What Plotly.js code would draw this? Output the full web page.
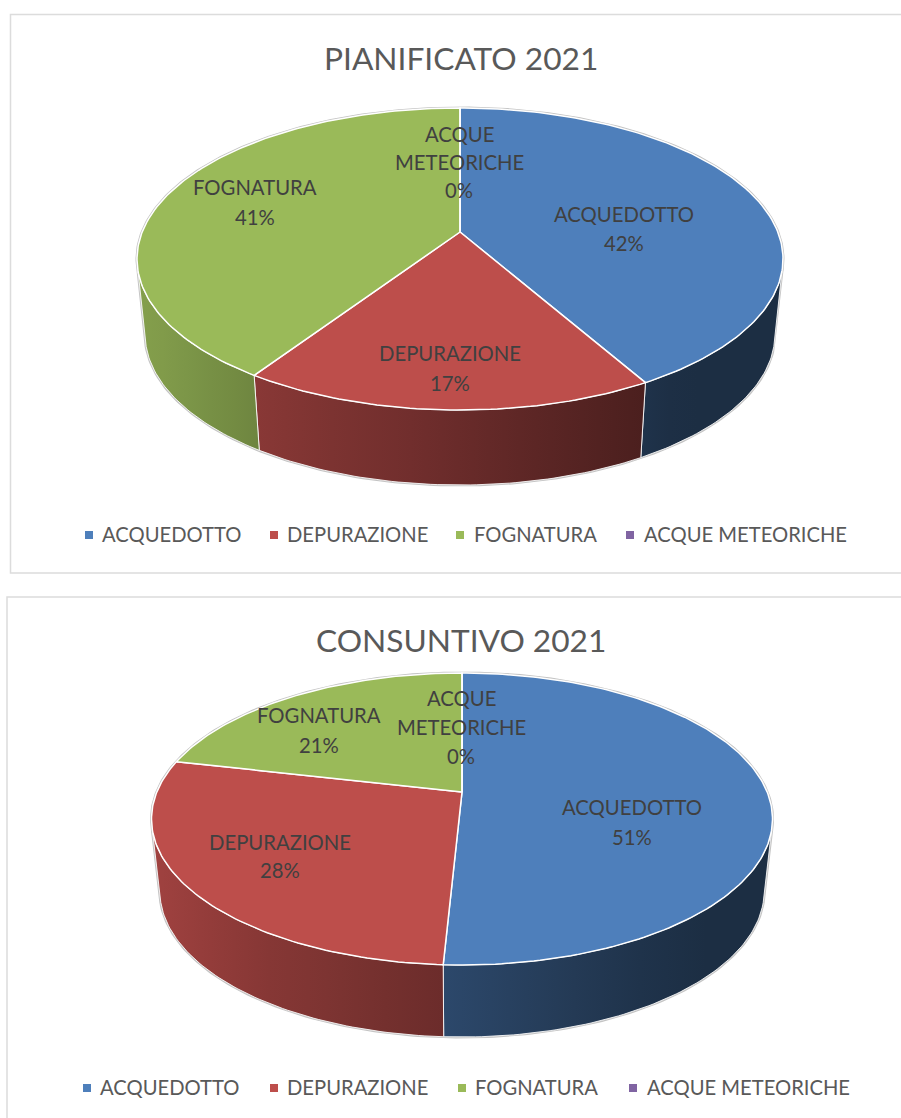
<!DOCTYPE html>
<html>
<head>
<meta charset="utf-8">
<script src="https://cdn.plot.ly/plotly-3.0.1.min.js"></script>
<style>html,body{margin:0;padding:0;background:#fff}#chart{width:901px;height:1118px}</style>
</head>
<body>
<div id="chart"></div>
<script>
// ---- data ----
const categories = ["ACQUEDOTTO", "DEPURAZIONE", "FOGNATURA", "ACQUE METEORICHE"];
const pianificato2021 = [41.8, 17.49, 40.71, 0];
const consuntivo2021 = [50.8, 27.8, 21.4, 0];
const chartTitles = ["PIANIFICATO 2021", "CONSUNTIVO 2021"];
const sliceColors = ["#4e7fbb", "#bd4e4b", "#9aba59", "#8064a2"];

// ---- layout of the two perspective pies (in axis units) ----
const pies = [
  {values: pianificato2021, title: chartTitles[0], titleY: 58, hubX: 460, hubY: 232, up: 124, down: 178, halfW: 323, depth: 75, rimScale: .975,
   labels: [[624, [214, 243]], [450, [353, 383]], [255, [187, 217]], [459, [134, 162, 190]]],
   legendY: 534, keyX: [89, 274, 460, 630], textX: [102, 287, 474, 644]},
  {values: consuntivo2021, title: chartTitles[1], titleY: 640, hubX: 462, hubY: 792, up: 119, down: 173, halfW: 310.5, depth: 72, rimScale: .973,
   labels: [[632, [807, 837]], [280, [842, 870]], [319, [715, 745]], [461, [698, 727, 756]]],
   legendY: 1087, keyX: [87, 274, 462, 633], textX: [100, 287, 475, 647]}
];
const VISIBLE_FROM = 105, VISIBLE_TO = 255;
const LABEL_FONT = "Lato, 'Open Sans', sans-serif";

function projector(p) {
  const ry = 2 / (1 / p.up + 1 / p.down), k = ry / p.up - 1;
  const rx = p.halfW * Math.sqrt(1 - k * k);
  return function (deg, lower) {
    const t = deg * Math.PI / 180, u = Math.sin(t), v = Math.cos(t), d = 1 + k * v;
    const s = lower ? p.rimScale : 1;
    return [p.hubX + s * rx * u / d, p.hubY + (lower ? p.depth : 0) - ry * v / d];
  };
}
function sweep(a, b) {
  const out = [], n = Math.max(1, Math.ceil(Math.abs(b - a)));
  for (let i = 0; i <= n; i++) out.push(a + (b - a) * i / n);
  return out;
}
const shadeStops = [[0, .9], [150, .85], [256, .72], [443, .57], [640, .4], [680, .36], [901, .36]];
function shadeAt(x) {
  for (let i = 1; i < shadeStops.length; i++) {
    if (x <= shadeStops[i][0]) {
      const a = shadeStops[i - 1], b = shadeStops[i];
      return a[1] + (b[1] - a[1]) * (x - a[0]) / (b[0] - a[0]);
    }
  }
  return .36;
}
function shaded(hex, f) {
  const n = parseInt(hex.slice(1), 16);
  return `rgb(${Math.round((n >> 16) * f)},${Math.round(((n >> 8) & 255) * f)},${Math.round((n & 255) * f)})`;
}

const traces = [], annotations = [];
pies.forEach((p) => {
  const at = projector(p);
  const total = p.values.reduce((a, b) => a + b, 0);
  // soft grey halo round the whole solid
  const haloTop = sweep(VISIBLE_TO, 360 + VISIBLE_FROM).map(d => at(d, false));
  const haloLow = sweep(VISIBLE_FROM, VISIBLE_TO).map(d => at(d, true));
  const halo = haloTop.concat(haloLow);
  halo.push(halo[0]);
  traces.push({type: "scatter", mode: "lines", x: halo.map(q => q[0]), y: halo.map(q => q[1]),
    line: {color: "#c4c4c4", width: 3}, showlegend: false, hoverinfo: "skip"});

  let cum = 0;
  const ranges = p.values.map(v => { const a = cum / total * 360; cum += v; return [a, cum / total * 360]; });
  // outer wall of each slice
  ranges.forEach((r, i) => {
    const a = Math.max(r[0], VISIBLE_FROM), b = Math.min(r[1], VISIBLE_TO);
    if (b <= a) return;
    const pts = sweep(a, b).map(d => at(d, false)).concat(sweep(b, a).map(d => at(d, true)));
    pts.push(pts[0]);
    const xs = pts.map(q => q[0]), x0 = Math.min(...xs), x1 = Math.max(...xs);
    const scale = [0, .2, .4, .6, .8, 1].map(f => [f, shaded(sliceColors[i], shadeAt(x0 + (x1 - x0) * f))]);
    traces.push({type: "scatter", mode: "lines", x: xs, y: pts.map(q => q[1]), fill: "toself",
      fillgradient: {type: "horizontal", colorscale: scale, start: x0, stop: x1},
      line: {color: "rgba(255,255,255,.85)", width: 1}, showlegend: false, hoverinfo: "skip"});
  });
  // top face of each slice
  ranges.forEach((r, i) => {
    const pts = [[p.hubX, p.hubY]].concat(sweep(r[0], r[1]).map(d => at(d, false)));
    pts.push([p.hubX, p.hubY]);
    traces.push({type: "scatter", mode: "lines", name: categories[i], x: pts.map(q => q[0]), y: pts.map(q => q[1]),
      fill: "toself", fillcolor: sliceColors[i], line: {color: "#ffffff", width: 1.5},
      showlegend: false, text: categories[i] + " " + Math.round(p.values[i]) + "%", hoverinfo: "text"});
  });
  // data labels: one annotation per text line for the wide line pitch
  p.labels.forEach((l, i) => {
    const words = i === 3 ? categories[i].split(" ") : [categories[i]];
    words.concat([Math.round(p.values[i] / total * 100) + "%"]).forEach((w, j) => {
      annotations.push({xref: "x", yref: "y", x: l[0], y: l[1][j], text: w, showarrow: false,
        xanchor: "center", yanchor: "middle", font: {family: LABEL_FONT, size: 20.3, color: "#404040"}});
    });
  });
  annotations.push({xref: "x", yref: "y", x: 461, y: p.titleY, text: p.title, showarrow: false,
    xanchor: "center", yanchor: "middle", font: {family: LABEL_FONT, size: 31.7, color: "#595959"}});
  // legend row: square keys and their names
  traces.push({type: "scatter", mode: "markers", x: p.keyX, y: categories.map(() => p.legendY + 1),
    marker: {symbol: "square", size: 8, color: sliceColors}, showlegend: false, hoverinfo: "skip"});
  categories.forEach((c, i) => {
    annotations.push({xref: "x", yref: "y", x: p.textX[i], y: p.legendY, text: c, showarrow: false,
      xanchor: "left", xshift: -2, yanchor: "middle", font: {family: LABEL_FONT, size: 20.2, color: "#595959"}});
  });
});

const layout = {
  width: 901, height: 1118, margin: {l: 0, r: 0, t: 0, b: 0, pad: 0},
  paper_bgcolor: "#ffffff", plot_bgcolor: "#ffffff", hovermode: "closest", showlegend: false,
  xaxis: {range: [0, 901], visible: false, fixedrange: true},
  yaxis: {range: [1118, 0], visible: false, fixedrange: true},
  annotations: annotations,
  shapes: [
    {type: "path", xref: "x", yref: "y", path: "M 901 14.5 L 10.5 14.5 L 10.5 573 L 901 573", line: {color: "#dcdcdc", width: 1.5}, layer: "below"},
    {type: "path", xref: "x", yref: "y", path: "M 901 597 L 7 597 L 7 1118", line: {color: "#dcdcdc", width: 1.5}, layer: "below"}
  ]
};
Plotly.newPlot("chart", traces, layout, {displayModeBar: false});
</script>
</body>
</html>
